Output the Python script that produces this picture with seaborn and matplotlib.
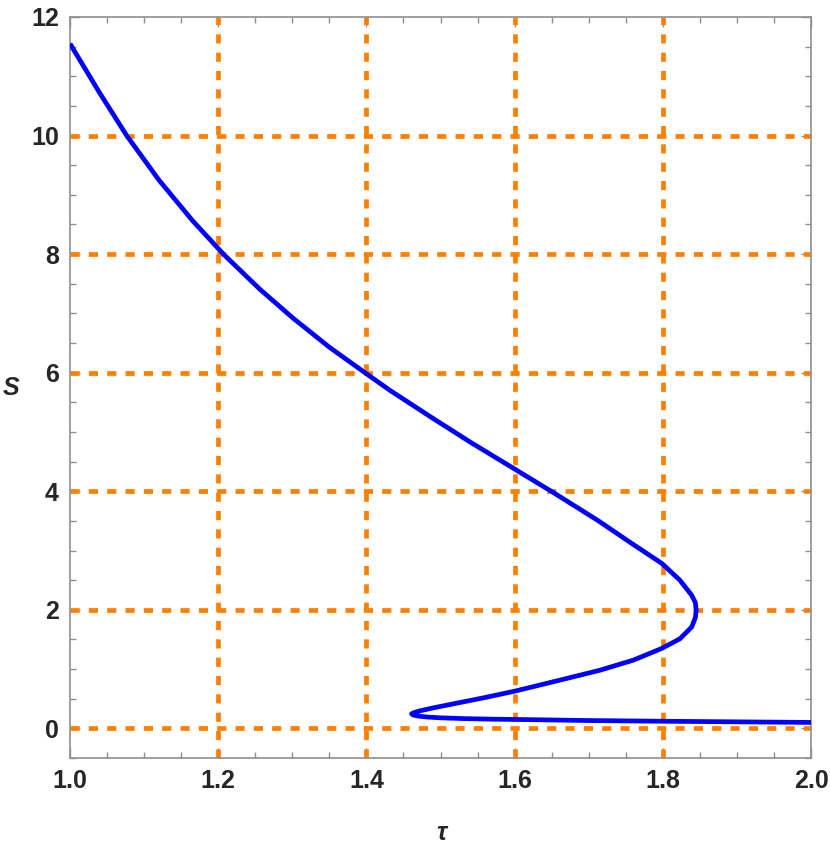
import numpy as np
import pandas as pd
import seaborn as sns
import matplotlib
matplotlib.use('Agg')
import matplotlib.pyplot as plt
from matplotlib.ticker import MultipleLocator, FormatStrFormatter

# curve, in order along the curve
# (upper branch -> right nose -> middle branch -> left nose -> bottom branch)
tau = [1.000, 1.040, 1.0765, 1.120, 1.165, 1.207, 1.256, 1.301, 1.350, 1.398,
       1.432, 1.486, 1.540, 1.598, 1.652, 1.712, 1.758, 1.799, 1.823, 1.839,
       1.844, 1.845, 1.844, 1.839, 1.823, 1.798, 1.760, 1.715, 1.660, 1.601,
       1.560, 1.522, 1.490, 1.472, 1.464, 1.461, 1.463, 1.470, 1.483, 1.500,
       1.530, 1.570, 1.620, 1.700, 1.800, 1.900, 2.000]
S = [11.55, 10.72, 10.00, 9.25, 8.57, 8.00, 7.41, 6.92, 6.43, 6.00,
     5.70, 5.26, 4.83, 4.39, 3.98, 3.51, 3.12, 2.78, 2.50, 2.245,
     2.12, 1.99, 1.87, 1.71, 1.51, 1.345, 1.15, 0.98, 0.81, 0.63,
     0.52, 0.425, 0.345, 0.295, 0.265, 0.245, 0.225, 0.207, 0.190, 0.178,
     0.165, 0.155, 0.147, 0.132, 0.120, 0.110, 0.100]

grid_x = [1.2, 1.4, 1.6, 1.8]
grid_y = [0, 2, 4, 6, 8, 10]

df = pd.DataFrame({'tau': tau, 'S': S})

sns.set_style('ticks')
plt.rcParams['font.family'] = ['Liberation Sans', 'DejaVu Sans']
plt.rcParams['lines.scale_dashes'] = False

fig = plt.figure(figsize=(8.30, 8.49), dpi=100)
ax = fig.add_axes([70/830, 1 - 758/849, 741/830, 741/849])

# orange dashed grid lines
orange = '#ff8000'
for gx in grid_x:
    ax.axvline(gx, color=orange, lw=3.4, dashes=(6.6, 6.6), zorder=1)
for gy in grid_y:
    ax.axhline(gy, color=orange, lw=3.4, dashes=(6.6, 6.6), zorder=1)

sns.lineplot(data=df, x='tau', y='S', sort=False, estimator=None,
             color='#0000ff', lw=3.4, ax=ax, zorder=3,
             solid_joinstyle='round', solid_capstyle='butt')

ax.set_xlim(1.0, 2.0)
ax.set_ylim(-0.5, 12)
ax.xaxis.set_major_locator(MultipleLocator(0.2))
ax.xaxis.set_minor_locator(MultipleLocator(0.05))
ax.yaxis.set_major_locator(MultipleLocator(2))
ax.yaxis.set_minor_locator(MultipleLocator(0.5))
ax.xaxis.set_major_formatter(FormatStrFormatter('%.1f'))

frame = '#8f8f8f'
for sp in ax.spines.values():
    sp.set_color(frame)
    sp.set_linewidth(1.2)
ax.tick_params(which='both', direction='in', top=True, right=True,
               color=frame, width=1.0, labelsize=18, pad=8)
ax.tick_params(which='major', length=7)
ax.tick_params(which='minor', length=4.3)
for lab in ax.get_xticklabels() + ax.get_yticklabels():
    lab.set_fontweight('bold')

ax.set_xlabel('')
ax.set_ylabel('')
fig.text(441/830, 1 - 833/849, 'τ', ha='center', va='center',
         fontsize=18, fontweight='bold', fontstyle='italic')
fig.text(11/830, 1 - 388/849, 'S', ha='center', va='center',
         fontsize=18, fontweight='bold', fontstyle='italic')

fig.savefig('out.png', dpi=100)
